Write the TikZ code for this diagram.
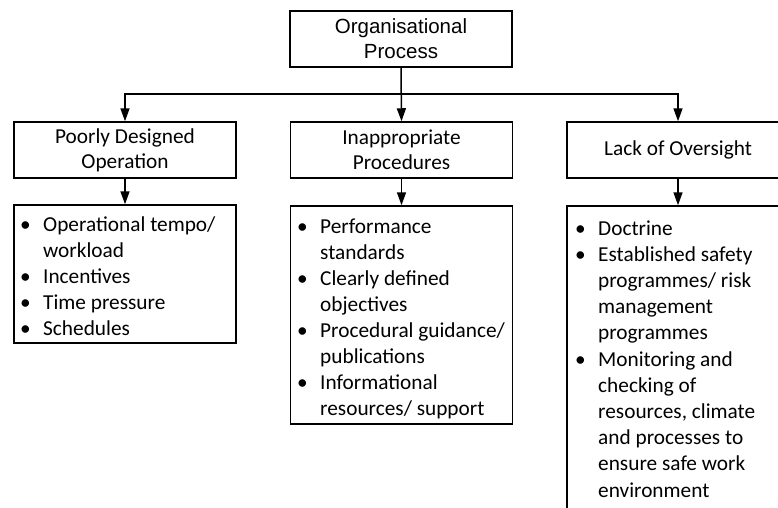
\documentclass[tikz,border=0pt]{standalone}
\usepackage{fontspec}
\setmainfont{Carlito}
\newfontfamily\arialfont{Liberation Sans}
\usetikzlibrary{arrows.meta}
% bullet and hanging indent for the list lines
\newcommand\bul{\makebox[23pt][l]{\textbullet}}
\newcommand\ind{\hspace*{23pt}}
\begin{document}
\begin{tikzpicture}[x=1pt,y=-1pt,
  box/.style={draw,line width=1.5pt,minimum width=222pt,inner sep=0pt,align=center,
              font=\fontsize{21.3}{25}\selectfont},
  arr/.style={line width=1.5pt,-{Triangle[width=9pt,length=13pt]}},
  item/.style={anchor=base west,inner sep=0pt,font=\fontsize{21.3}{26}\selectfont}]
\fill[white] (0,0) rectangle (778,507);
\useasboundingbox (0,0) rectangle (778,507);
\clip (0,0) rectangle (778,507);

% top level
\node[box,minimum height=56pt,font=\arialfont\fontsize{20.5}{25}\selectfont] (org) at (401,39) {Organisational\\Process};

% second level
\node[box,minimum height=56pt] (h1) at (125,150) {Poorly Designed\\Operation};
\node[box,minimum height=56pt] (h2) at (401.5,150) {Inappropriate\\Procedures};
\node[box,minimum height=56pt] (h3) at (678,150) {Lack of Oversight};

% list boxes
\node[box,minimum height=138pt] (c1) at (125,274) {};
\node[box,minimum height=218pt] (c2) at (401.5,315) {};
\node[box,minimum height=314pt] (c3) at (678,363) {};

% connectors
\coordinate (bus) at (401,94);
\draw[arr] (org.south) -- (h2.north);
\draw[arr] (bus) -| (h1.north);
\draw[arr] (bus) -| (h3.north);
\draw[arr] (h1.south) -- (c1.north);
\draw[arr] (h2.south) -- (c2.north);
\draw[arr] (h3.south) -- (c3.north);

% list contents
\foreach \t [count=\i from 0] in {{\bul Operational tempo/},{\ind workload},
    {\bul Incentives},{\bul Time pressure},{\bul Schedules}}
  \node[item] (la-\i) at (20,231+26*\i) {\t};

\foreach \t [count=\i from 0] in {{\bul Performance},{\ind standards},
    {\bul Clearly defined},{\ind objectives},{\bul Procedural guidance/},
    {\ind publications},{\bul Informational},{\ind resources/ support}}
  \node[item] (lb-\i) at (297,233+26*\i) {\t};

\foreach \t [count=\i from 0] in {{\bul Doctrine},{\bul Established safety},
    {\ind programmes/ risk},{\ind management},{\ind programmes},
    {\bul Monitoring and},{\ind checking of},{\ind resources, climate},
    {\ind and processes to},{\ind ensure safe work},{\ind environment}}
  \node[item] (lc-\i) at (575,235+26.2*\i) {\t};
\end{tikzpicture}
\end{document}
